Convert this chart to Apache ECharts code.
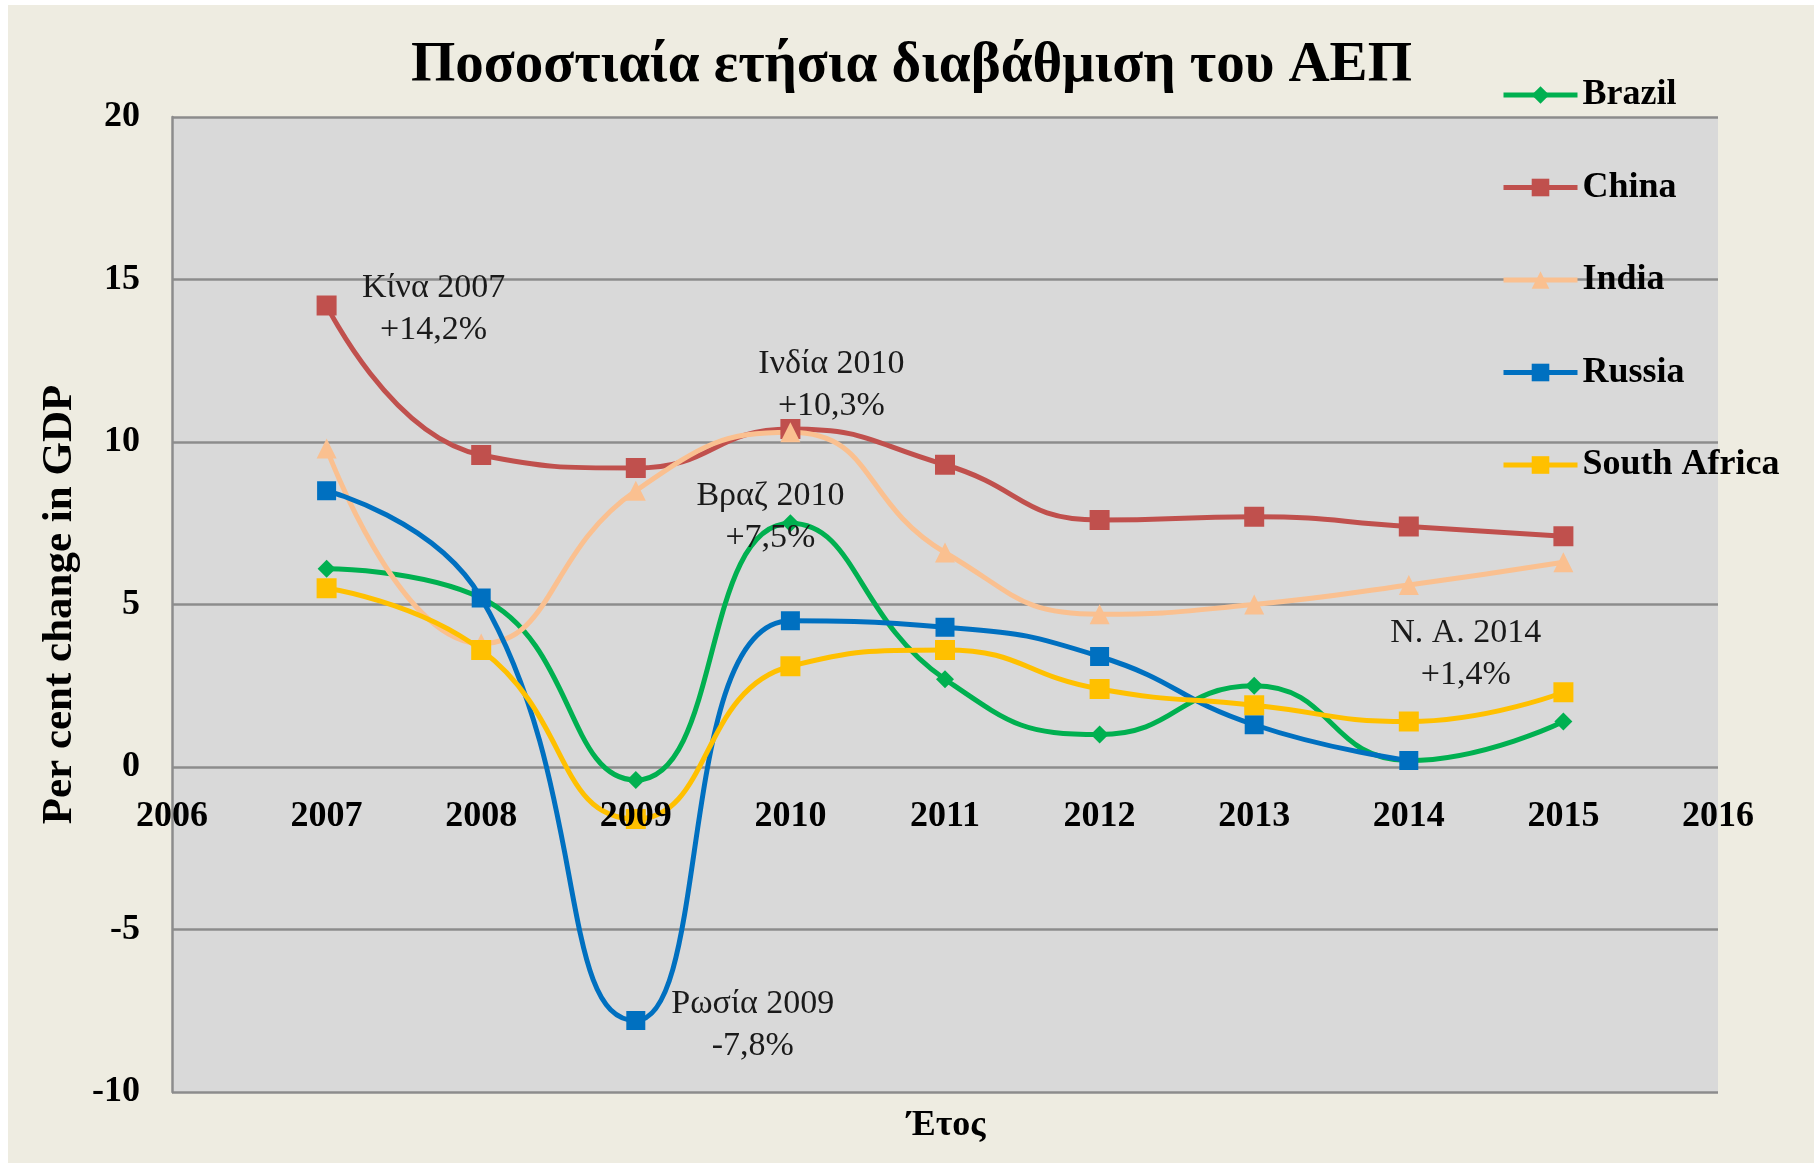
<!DOCTYPE html>
<html>
<head>
<meta charset="utf-8">
<script src="https://cdn.jsdelivr.net/npm/echarts@6/dist/echarts.min.js"></script>
<style>
  html, body { margin: 0; padding: 0; background: #ffffff; }
  #main { position: absolute; left: 8px; top: 5px; width: 1806px; height: 1158px; }
</style>
</head>
<body>
<div id="main"></div>
<script>
// years on the x axis
var years = [2007, 2008, 2009, 2010, 2011, 2012, 2013, 2014, 2015];

// per cent change in GDP
var brazil      = [6.1, 5.2, -0.4, 7.5, 2.7, 1.0, 2.5, 0.2, 1.4];
var china       = [14.2, 9.6, 9.2, 10.4, 9.3, 7.6, 7.7, 7.4, 7.1];
var india       = [9.8, 3.8, 8.5, 10.3, 6.6, 4.7, 5.0, 5.6, 6.3];
var russia      = [8.5, 5.2, -7.8, 4.5, 4.3, 3.4, 1.3, 0.2, null];
var southAfrica = [5.5, 3.6, -1.6, 3.1, 3.6, 2.4, 1.9, 1.4, 2.3];

// callout texts (series, year, text)
var notes = [
  ['China', 2007, 'Κίνα 2007\n+14,2%'],
  ['India', 2010, 'Ινδία 2010\n+10,3%'],
  ['Brazil', 2010, 'Βραζ 2010\n+7,5%'],
  ['Russia', 2009, 'Ρωσία 2009\n-7,8%'],
  ['South Africa', 2014, 'N. A. 2014\n+1,4%']
];

var noteOffsets = {
  'China': [107, 4],
  'India': [41, -47],
  'Brazil': [-20, -6],
  'Russia': [117, 5],
  'South Africa': [57, -67]
};

var serif = 'Liberation Serif';

function makeData(name, vals) {
  return years.map(function (yr, i) {
    var item = { value: [yr, vals[i]] };
    notes.forEach(function (n) {
      if (n[0] === name && n[1] === yr) {
        item.label = {
          show: true,
          position: 'inside',
          offset: noteOffsets[name],
          formatter: n[2],
          fontFamily: serif,
          fontSize: 34,
          lineHeight: 42,
          color: '#1a1a1a',
          align: 'center',
          verticalAlign: 'middle'
        };
      }
    });
    return item;
  });
}

function line(name, vals, color, symbol, size) {
  return {
    name: name,
    type: 'line',
    smooth: 0.5,
    data: makeData(name, vals),
    symbol: symbol,
    symbolSize: size,
    showAllSymbol: true,
    lineStyle: { color: color, width: 5 },
    itemStyle: { color: color },
    label: { show: false },
    emphasis: { disabled: true }
  };
}

var chart = echarts.init(document.getElementById('main'));
chart.setOption({
  backgroundColor: '#EEECE1',
  animation: false,
  title: [
    {
      text: 'Ποσοστιαία ετήσια διαβάθμιση του ΑΕΠ',
      left: 398,
      top: 28,
      textStyle: { fontFamily: serif, fontWeight: 'bold', fontSize: 57, color: '#000' }
    },
    {
      text: 'Έτος',
      left: 894,
      top: 1098,
      textStyle: { fontFamily: serif, fontWeight: 'bold', fontSize: 36, color: '#000' }
    }
  ],
  legend: {
    orient: 'vertical',
    left: 1488,
    top: 67,
    itemWidth: 74,
    itemHeight: 22,
    itemGap: 56.5,
    lineStyle: { width: 5 },
    textStyle: { fontFamily: serif, fontWeight: 'bold', fontSize: 36, color: '#000' },
    data: ['Brazil', 'China', 'India', 'Russia', 'South Africa']
  },
  grid: {
    show: true,
    left: 164,
    top: 112,
    right: 96,
    bottom: 71,
    backgroundColor: '#D9D9D9',
    borderWidth: 0
  },
  xAxis: {
    type: 'value',
    min: 2006,
    max: 2016,
    interval: 1,
    z: 5,
    offset: -325,
    axisLine: { show: false },
    axisTick: { show: false },
    splitLine: { show: false },
    axisLabel: {
      margin: 32,
      fontFamily: serif,
      fontWeight: 'bold',
      fontSize: 36,
      color: '#000',
      formatter: function (v) { return String(v); }
    }
  },
  yAxis: {
    type: 'value',
    min: -10,
    max: 20,
    interval: 5,
    name: 'Per cent change in GDP',
    nameLocation: 'middle',
    nameGap: 85,
    nameTextStyle: { fontFamily: serif, fontWeight: 'bold', fontSize: 43, color: '#000' },
    axisLine: { show: true, lineStyle: { color: '#8C8C8C', width: 2.5 } },
    axisTick: { show: false },
    splitLine: { lineStyle: { color: '#8C8C8C', width: 2.5 } },
    axisLabel: {
      margin: 32,
      fontFamily: serif,
      fontWeight: 'bold',
      fontSize: 36,
      color: '#000'
    }
  },
  series: [
    line('Brazil', brazil, '#00B050', 'diamond', 18),
    line('China', china, '#C0504D', 'rect', 20),
    line('India', india, '#FAC090', 'triangle', 20),
    line('Russia', russia, '#0070C0', 'rect', 19),
    line('South Africa', southAfrica, '#FFC000', 'rect', 20)
  ]
});
</script>
</body>
</html>
